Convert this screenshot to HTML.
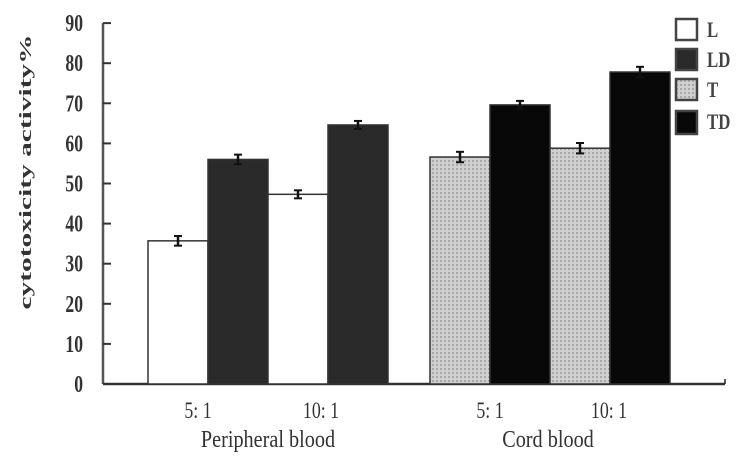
<!DOCTYPE html>
<html><head><meta charset="utf-8"><style>
html,body{margin:0;padding:0;background:#fff;}
svg{display:block;font-family:"Liberation Serif",serif;}
</style></head><body>
<svg id="chart" width="751" height="462" viewBox="0 0 751 462"></svg>
<script>
const groups = ["5: 1","10: 1","5: 1","10: 1"];
const seriesL = [35.7, 47.3];
const seriesLD = [56, 64.6];
const seriesT = [56.6, 58.8];
const seriesTD = [69.6, 77.8];
const errs = [1.2, 1.2, 1.0, 1.0, 1.3, 1.0, 1.3, 1.3];
const yTicks = [0,10,20,30,40,50,60,70,80,90];
const sections = ["Peripheral blood","Cord blood"];
const legendLabels = ["L","LD","T","TD"];

const NS="http://www.w3.org/2000/svg";
const svg=document.getElementById('chart');
function el(t,a,p){const e=document.createElementNS(NS,t);for(const k in a)e.setAttribute(k,a[k]);(p||svg).appendChild(e);return e;}
const y0=384, perUnit=4.01;
function y(v){return y0-v*perUnit;}
const defs=el('defs',{});
const pat=el('pattern',{id:'dots',width:4,height:4,patternUnits:'userSpaceOnUse'},defs);
el('rect',{width:4,height:4,fill:'#d0d0d0'},pat);
el('rect',{width:2,height:2,fill:'#a8a8a8'},pat);
const fills={L:'#ffffff',LD:'#2a2a2a',T:'url(#dots)',TD:'#080808'};

let a=el('line',{x1:103,y1:y0,x2:725,y2:y0,stroke:'#333','stroke-width':2.5});

a=el('line',{x1:103,y1:y0,x2:103,y2:y(90),stroke:'#555','stroke-width':2.5});

el('line',{x1:725,y1:y0,x2:725,y2:y0-5,stroke:'#222','stroke-width':1.5});
yTicks.forEach(v=>{
  el('line',{x1:103,y1:y(v),x2:111,y2:y(v),stroke:'#333','stroke-width':2});
  const t=el('text',{x:0,y:0,'font-size':22,'font-weight':'bold','text-anchor':'end',fill:'#333',transform:`translate(83,${y(v)+8}) scale(0.8,1.1)`});
  t.textContent=v;
  
});
let yl=el('text',{x:0,y:0,'font-size':17,'font-weight':'bold','text-anchor':'middle',fill:'#333',textLength:275,lengthAdjust:'spacingAndGlyphs',transform:'translate(31,172) rotate(-90)'});
yl.textContent='cytotoxicity activity%';


const bw=60;
const starts=[148,268,430,550];
const pairs=[[seriesL,seriesLD,'L','LD',0],[seriesL,seriesLD,'L','LD',1],[seriesT,seriesTD,'T','TD',0],[seriesT,seriesTD,'T','TD',1]];
const labelX=[198,321,490,609];
pairs.forEach((p,gi)=>{
  [0,1].forEach(j=>{
    const v=(j?p[1]:p[0])[p[4]], key=j?p[3]:p[2];
    const x=starts[gi]+j*bw;
    const r=el('rect',{x:x,y:y(v),width:bw,height:y0-y(v),fill:fills[key],stroke:'#333','stroke-width':1.5});
    
    
    const e=errs[gi*2+j], cx=x+bw/2;
    el('line',{x1:cx,y1:y(v+e),x2:cx,y2:y(v-e),stroke:'#111','stroke-width':2.5});
    el('line',{x1:cx-4,y1:y(v+e),x2:cx+4,y2:y(v+e),stroke:'#111','stroke-width':2});
    el('line',{x1:cx-4,y1:y(v-e),x2:cx+4,y2:y(v-e),stroke:'#111','stroke-width':2});
  });
  const t=el('text',{x:0,y:0,'font-size':21,'text-anchor':'middle',fill:'#333',transform:`translate(${labelX[gi]},418) scale(0.85,1.1)`});
  t.textContent=groups[gi];
  
});
[268,548].forEach((cx,i)=>{
  const t=el('text',{x:0,y:0,'font-size':22,'text-anchor':'middle',fill:'#333',transform:`translate(${cx},447) scale(0.92,1.1)`});
  t.textContent=sections[i];
  
});
const ly=[19,49,79,111];
legendLabels.forEach((l,i)=>{
  const g=el('g',{});
  
  
  el('rect',{x:676,y:ly[i],width:21,height:i==3?23:21,fill:fills[l],stroke:'#444','stroke-width':2.5},g);
  const t=el('text',{x:0,y:0,'font-size':21,'font-weight':'bold',fill:'#444',transform:`translate(707,${ly[i]+18}) scale(0.8,1.05)`},g);
  t.textContent=l;
});
</script>
</body></html>
